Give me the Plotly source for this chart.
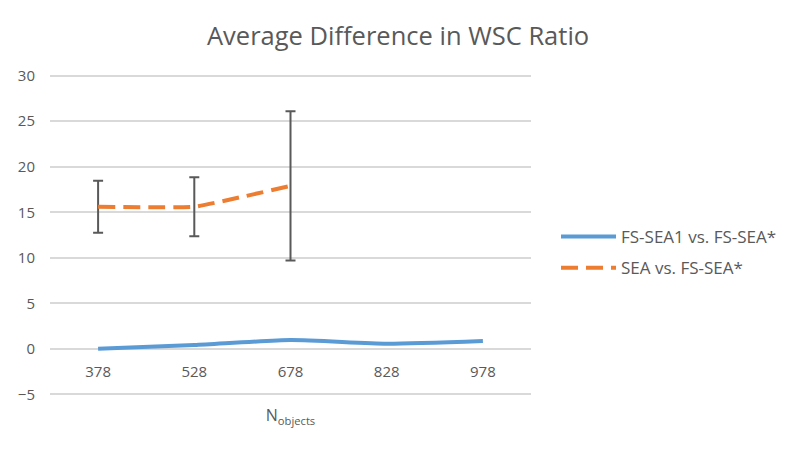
import plotly.graph_objects as go

# data
n_objects = ["378", "528", "678", "828", "978"]
fs_sea1 = [0.0, 0.4, 0.95, 0.55, 0.85]
sea = [15.6, 15.6, 17.9, None, None]
sea_err = [2.85, 3.25, 8.2, None, None]

y_ticks = [-5, 0, 5, 10, 15, 20, 25, 30]

TEXT = "#595959"
FONT = "Open Sans, sans-serif"

fig = go.Figure()

fig.add_trace(
    go.Scatter(
        x=n_objects,
        y=fs_sea1,
        name="FS-SEA1 vs. FS-SEA*",
        legendgroup="a",
        mode="lines",
        line=dict(color="#5B9BD5", width=4, shape="spline", smoothing=0.6),
    )
)
fig.add_trace(
    go.Scatter(
        x=n_objects,
        y=sea,
        name="SEA vs. FS-SEA*",
        legendgroup="b",
        mode="lines",
        line=dict(color="#ED7D31", width=4, dash="17px,8px", shape="spline", smoothing=0.3),
        error_y=dict(type="data", array=sea_err, color=TEXT, thickness=2, width=5),
    )
)

# page has an 8px body margin, so the figure is a bit smaller than the window
fig.update_layout(
    width=788,
    height=441,
    margin=dict(l=42, r=265, t=65, b=52, autoexpand=False),
    paper_bgcolor="white",
    plot_bgcolor="white",
    font=dict(family=FONT, color=TEXT, size=15),
    title=dict(
        text="Average Difference in WSC Ratio",
        x=0.495,
        xref="container",
        xanchor="center",
        y=1 - 28 / 441,
        yref="container",
        yanchor="middle",
        font=dict(size=25.5, color=TEXT),
    ),
    showlegend=True,
    legend=dict(
        x=1.052,
        y=0.446,
        xanchor="left",
        yanchor="middle",
        font=dict(size=17, color=TEXT),
        itemwidth=55,
        tracegroupgap=6,
    ),
)

fig.update_xaxes(
    type="category",
    range=[-0.5, 4.5],
    anchor="free",
    position=5.3 / 35.6,
    showgrid=False,
    showline=False,
    zeroline=False,
    ticks="",
    ticklabelstandoff=12,
    title=dict(text="N<sub>objects</sub>", font=dict(size=16, color=TEXT), standoff=30),
)
fig.update_yaxes(
    range=[-5.3, 30.3],
    tickvals=y_ticks,
    showgrid=True,
    gridcolor="#D9D9D9",
    gridwidth=1.5,
    zeroline=False,
    showline=False,
    ticks="",
    ticklabelstandoff=14,
)

fig.write_html("out.html")
